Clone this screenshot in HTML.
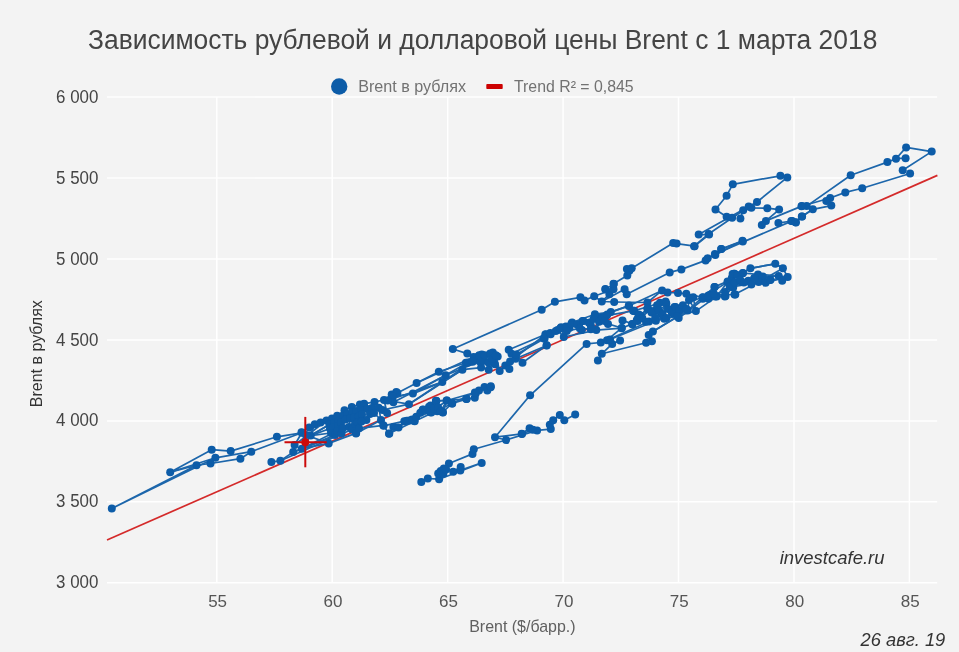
<!DOCTYPE html>
<html lang="ru"><head><meta charset="utf-8"><title>Brent</title>
<style>
html,body{margin:0;padding:0;background:#f3f3f3;}
body{width:959px;height:652px;overflow:hidden;font-family:"Liberation Sans",Arial,sans-serif;}
svg{display:block;will-change:transform;opacity:0.999}
text{font-family:"Liberation Sans",Arial,sans-serif;}
</style></head><body>
<svg width="959" height="652" viewBox="0 0 959 652">
<rect x="0" y="0" width="959" height="652" fill="#f3f3f3"/>
<g stroke="#ffffff" stroke-width="1.5">
<line x1="107" x2="937.2" y1="582.8" y2="582.8"/>
<line x1="107" x2="937.2" y1="501.8" y2="501.8"/>
<line x1="107" x2="937.2" y1="420.9" y2="420.9"/>
<line x1="107" x2="937.2" y1="339.9" y2="339.9"/>
<line x1="107" x2="937.2" y1="259.0" y2="259.0"/>
<line x1="107" x2="937.2" y1="178.0" y2="178.0"/>
<line x1="107" x2="937.2" y1="97.1" y2="97.1"/>
<line x1="216.8" x2="216.8" y1="97.05" y2="582.8"/>
<line x1="332.2" x2="332.2" y1="97.05" y2="582.8"/>
<line x1="447.7" x2="447.7" y1="97.05" y2="582.8"/>
<line x1="563.1" x2="563.1" y1="97.05" y2="582.8"/>
<line x1="678.5" x2="678.5" y1="97.05" y2="582.8"/>
<line x1="794.0" x2="794.0" y1="97.05" y2="582.8"/>
<line x1="909.4" x2="909.4" y1="97.05" y2="582.8"/>
</g>
<text x="88.0" y="48.9" font-size="26.8" fill="#444444" textLength="789.4" lengthAdjust="spacingAndGlyphs">Зависимость рублевой и долларовой цены Brent с 1 марта 2018</text>
<g font-size="18.2" fill="#444444" text-anchor="end">
<text x="98.4" y="588.40" textLength="42.3" lengthAdjust="spacingAndGlyphs">3 000</text>
<text x="98.4" y="507.44" textLength="42.3" lengthAdjust="spacingAndGlyphs">3 500</text>
<text x="98.4" y="426.48" textLength="42.3" lengthAdjust="spacingAndGlyphs">4 000</text>
<text x="98.4" y="345.52" textLength="42.3" lengthAdjust="spacingAndGlyphs">4 500</text>
<text x="98.4" y="264.57" textLength="42.3" lengthAdjust="spacingAndGlyphs">5 000</text>
<text x="98.4" y="183.61" textLength="42.3" lengthAdjust="spacingAndGlyphs">5 500</text>
<text x="98.4" y="102.65" textLength="42.3" lengthAdjust="spacingAndGlyphs">6 000</text>
</g>
<g font-size="17" fill="#555555" text-anchor="middle">
<text x="217.6" y="607">55</text>
<text x="333.0" y="607">60</text>
<text x="448.5" y="607">65</text>
<text x="563.9" y="607">70</text>
<text x="679.3" y="607">75</text>
<text x="794.8" y="607">80</text>
<text x="910.2" y="607">85</text>
</g>
<text x="469.2" y="631.7" font-size="15.7" fill="#606060" textLength="106.4" lengthAdjust="spacingAndGlyphs">Brent ($/барр.)</text>
<text transform="translate(42.0,407.2) rotate(-90)" font-size="15.7" fill="#333333" textLength="107" lengthAdjust="spacingAndGlyphs">Brent в рублях</text>
<circle cx="339.2" cy="86.5" r="8.2" fill="#0c5ca8"/>
<text x="358.2" y="91.7" font-size="16" fill="#727272" textLength="107.9" lengthAdjust="spacingAndGlyphs">Brent в рублях</text>
<rect x="486.3" y="84.1" width="16.4" height="5" rx="0.8" fill="#cc0000"/>
<text x="514.0" y="91.7" font-size="16" fill="#727272" textLength="119.6" lengthAdjust="spacingAndGlyphs">Trend R² = 0,845</text>
<line x1="107" y1="540" x2="937.4" y2="175.4" stroke="#d42a2a" stroke-width="1.7"/>
<g fill="none" stroke="#1c66ab" stroke-width="1.7" stroke-linejoin="round" stroke-linecap="round">
<polyline points="301.8,432.8 276.9,436.8 230.7,451.1 211.7,449.7 170.2,472.3 215.4,457.8 251.3,451.7"/>
<polyline points="170.2,472.3 196.5,465.2 111.8,508.4 215.4,457.8"/>
<polyline points="196.5,465.2 210.5,463.5 240.4,458.7 251.3,451.7 301.8,432.8"/>
<polyline points="210.5,463.5 215.4,457.8"/>
<polyline points="271.4,461.9 280.4,460.8 293.2,452.1 301.8,448.7 310.7,435.6"/>
<polyline points="293.2,452.1 294.6,445.0 301.8,432.8"/>
<polyline points="301.8,448.7 328.7,443.4 356.2,433.1"/>
<polyline points="301.5,432.3 309.2,427.5 314.8,424.2 320.6,422.4 326.5,420.6 332.0,418.4 337.2,415.8 344.5,410.3 351.8,406.9 359.9,404.6 364.1,403.8 374.5,401.9 384.0,400.0 391.7,394.6 396.3,391.9"/>
<polyline points="306.0,435.0 310.7,435.6 329.5,424.5 334.0,423.0 338.5,421.0 343.0,416.5 347.5,414.0 352.0,412.5 356.5,411.0 361.0,410.0 367.5,409.0 372.0,408.0 378.7,407.7 382.5,410.0 387.1,413.0"/>
<polyline points="330.0,428.5 333.5,427.0 338.0,426.0 341.0,422.5 345.5,419.5 350.0,418.5 354.0,417.5 358.5,416.5 362.0,414.5 366.4,419.9 370.0,414.0 374.0,413.0 381.0,419.9 383.3,425.3 389.0,433.7"/>
<polyline points="331.0,433.0 335.0,435.0 337.5,431.0 341.5,433.5 342.0,429.0 343.0,428.0 349.0,427.0 352.0,429.5 356.0,433.4 355.0,424.0 357.5,422.5 359.0,428.3 361.5,421.5"/>
<polyline points="306.0,435.0 301.5,432.3"/>
<polyline points="310.7,435.6 314.8,424.2"/>
<polyline points="329.5,424.5 326.5,420.6"/>
<polyline points="334.0,423.0 337.2,415.8"/>
<polyline points="343.0,416.5 344.5,410.3"/>
<polyline points="354.0,417.5 351.8,406.9"/>
<polyline points="362.0,414.5 364.1,403.8"/>
<polyline points="374.0,413.0 374.5,401.9"/>
<polyline points="338.0,426.0 337.5,431.0"/>
<polyline points="350.0,418.5 349.0,427.0"/>
<polyline points="361.5,421.5 366.4,419.9"/>
<polyline points="387.1,413.0 384.0,400.0"/>
<polyline points="381.0,419.9 378.7,407.7"/>
<polyline points="310.7,435.6 330.0,428.5"/>
<polyline points="310.7,435.6 331.0,433.0"/>
<polyline points="310.7,435.6 329.5,424.5"/>
<polyline points="301.8,448.7 335.0,435.0"/>
<polyline points="301.8,448.7 343.0,428.0"/>
<polyline points="293.2,452.1 341.5,433.5"/>
<polyline points="294.6,445.0 326.5,420.6"/>
<polyline points="328.7,443.4 306.0,435.0"/>
<polyline points="280.4,460.8 352.0,429.5"/>
<polyline points="356.0,433.4 381.0,419.9"/>
<polyline points="359.0,428.3 383.3,425.3"/>
<polyline points="397.4,393.0 416.6,383.0 438.8,371.7 465.9,362.8 478.3,356.6"/>
<polyline points="392.8,396.5 412.9,393.6 442.3,382.1 462.4,369.7 481.1,367.6"/>
<polyline points="393.4,402.2 445.7,375.2 479.7,361.4"/>
<polyline points="408.9,404.2 387.6,400.5 442.3,382.1 445.7,375.2 438.8,371.7"/>
<polyline points="408.9,404.2 462.4,369.7 465.9,362.8"/>
<polyline points="382.5,410.0 408.9,404.2"/>
<polyline points="467.3,353.6 478.3,356.6 481.8,354.5 479.7,361.4 492.8,352.4 481.1,367.6 488.7,369.7 497.7,356.6 494.9,364.2 499.7,371.1 505.3,365.6 509.4,369.0 510.1,361.4 515.6,358.7 508.7,349.7 511.5,353.8 516.3,354.5 522.5,362.8"/>
<polyline points="541.7,309.8 452.8,349.0 467.3,353.6"/>
<polyline points="508.7,349.7 545.3,334.5 544.6,338.6 516.3,354.5"/>
<polyline points="515.6,358.7 546.7,345.5 543.8,338.4 511.5,353.8"/>
<polyline points="522.5,362.8 546.6,345.3"/>
<polyline points="510.1,361.4 545.9,334.2"/>
<polyline points="389.3,433.6 393.4,427.0 398.5,427.5 404.3,421.2 409.5,420.6 414.7,421.2 413.8,420.7 422.7,409.7 423.1,409.4 429.0,406.8 431.3,412.6 430.6,405.6 435.9,401.1 438.3,409.1 437.2,411.3 442.9,412.6 436.3,401.0 446.9,400.5 442.8,412.2 452.1,403.4 446.6,400.6 452.2,403.4 466.3,399.1 474.8,397.8 475.7,393.4 479.0,390.4 484.5,387.0 487.3,390.4 490.7,387.3"/>
<polyline points="383.6,425.8 404.3,421.2 430.6,412.2 446.9,400.5 474.9,392.5 490.8,386.3"/>
<polyline points="389.3,433.6 414.7,421.2 452.1,403.4 479.0,390.4"/>
<polyline points="398.5,427.5 436.2,400.8 466.6,399.1"/>
<polyline points="421.3,482.0 427.8,478.5 439.1,479.2 438.2,473.6 443.8,468.5 448.9,463.5 472.5,453.9 473.8,449.2 506.1,440.0 495.0,437.2 530.1,395.3 586.6,343.9"/>
<polyline points="439.1,479.2 481.7,462.9 460.3,470.4 460.7,467.0 453.2,471.7 443.8,468.5"/>
<polyline points="495.0,437.2 521.7,433.8 529.6,428.2 537.1,430.4 550.8,429.1 549.8,424.8 553.2,420.3 559.8,415.0 564.3,420.3 575.2,414.5"/>
<polyline points="506.1,440.0 537.1,430.4"/>
<polyline points="541.7,309.8 554.9,301.8 580.4,297.3 584.5,300.4 594.2,296.2 601.8,301.5 609.4,294.2 605.3,289.1 613.5,289.3 613.5,283.8 627.3,275.5 629.4,270.7 626.9,269.0 631.7,268.3 673.2,243.1 676.6,243.6 694.6,246.2 709.1,234.6 698.7,234.6"/>
<polyline points="594.2,296.2 613.5,289.3 605.5,289.4 613.8,283.9"/>
<polyline points="614.2,302.0 601.8,301.5 624.6,289.3 626.7,294.2 669.7,272.4 681.4,269.4 705.6,260.4 707.7,258.3 715.3,254.9 721.4,249.0 742.8,241.4"/>
<polyline points="614.2,302.0 647.4,302.5 662.1,290.4"/>
<polyline points="600.4,318.3 608.0,323.9 621.8,328.0 622.5,320.4 632.2,323.9 637.7,321.1"/>
<polyline points="546.6,345.3 543.8,338.4 545.9,334.2 550.7,334.2 557.6,330.1 563.8,337.0 561.1,327.3 569.4,328.0 572.1,322.5 581.8,330.1 582.5,321.1 590.8,325.2 596.3,330.1 600.4,318.3 594.9,314.2 606.6,315.6 610.8,312.1 628.7,305.9 634.3,310.7 640.5,315.6 647.4,308.7"/>
<polyline points="550.7,334.2 572.1,322.5 594.9,314.2 610.8,312.1 628.7,305.9 662.1,290.4 667.6,292.5 678.0,292.9 686.3,293.8"/>
<polyline points="557.6,330.1 582.5,321.1 606.6,315.6 634.3,310.7 665.6,301.4"/>
<polyline points="563.8,337.0 596.3,330.1 621.6,328.2 632.2,323.9 660.0,302.8"/>
<polyline points="586.6,343.9 600.8,342.5 607.0,340.2 612.2,343.9 620.1,340.4"/>
<polyline points="612.2,343.9 601.8,353.8 597.9,360.6"/>
<polyline points="601.8,353.8 646.1,342.8 651.9,341.3 648.7,335.0 652.9,331.4 687.7,310.4"/>
<polyline points="607.0,340.2 649.0,321.5"/>
<polyline points="610.0,339.5 655.9,320.8"/>
<polyline points="607.0,340.2 621.6,328.2"/>
<polyline points="629.0,305.6 633.8,311.1 638.0,318.0 632.4,324.2 647.6,308.3 655.9,311.1 660.0,302.8 661.4,313.9 665.6,301.4 664.2,318.7 655.9,320.8 673.2,313.2 674.5,306.9 678.7,318.0 687.7,310.4 689.0,300.0 695.9,311.1 693.2,297.3 686.3,293.8 702.9,297.3 708.4,298.7 711.1,294.5 714.6,286.9 716.7,296.6 724.9,296.6 727.7,282.1 731.8,278.0 734.6,273.8 733.2,287.6 735.3,294.5"/>
<polyline points="647.6,308.3 674.5,306.9 702.9,297.3 727.7,282.1"/>
<polyline points="664.2,318.7 695.9,311.1 716.7,296.6 733.8,273.8"/>
<polyline points="678.7,318.0 709.0,295.2 734.5,294.5"/>
<polyline points="652.9,331.4 687.7,310.4 714.5,286.9"/>
<polyline points="702.8,298.7 709.0,295.2 714.5,286.9 727.6,281.4 733.8,273.8 742.8,273.1 750.4,268.3 775.3,263.8 782.9,268.3 787.7,277.0"/>
<polyline points="715.2,296.6 725.5,295.9 732.4,286.9 741.4,282.1 748.3,280.7 758.0,274.5 762.8,276.6 778.7,275.9 782.2,280.7"/>
<polyline points="734.5,294.5 758.7,282.1 765.6,282.8 770.4,280.0 787.7,277.0"/>
<polyline points="727.6,281.4 750.4,268.3 775.3,263.8 782.9,268.3 758.7,282.1 732.4,286.9"/>
<polyline points="742.8,273.1 778.7,275.9 787.7,277.0 765.6,282.8 741.4,282.1"/>
<polyline points="702.6,297.6 708.2,295.7 713.8,293.8 725.1,291.9 729.8,286.3 734.5,282.6 732.6,274.1 737.3,275.0 742.9,273.2 740.1,279.7 743.9,282.6 751.4,284.4 754.2,277.9 770.2,279.7"/>
<polyline points="694.1,246.2 708.6,234.0 743.2,210.3 748.7,206.4 751.4,207.8 767.3,208.2 779.1,209.6 765.9,220.9 761.8,225.1"/>
<polyline points="715.5,209.5 726.6,195.7 732.8,184.3 780.4,175.8 787.3,177.4 757.0,202.0 748.7,206.4"/>
<polyline points="715.5,209.5 726.6,216.8 732.1,217.7 743.2,210.3 740.4,218.6"/>
<polyline points="765.9,220.9 801.8,206.1 806.7,206.1 850.7,175.2 887.4,162.1 896.0,158.7 906.1,147.4 931.7,151.6 902.7,170.2"/>
<polyline points="896.0,158.7 905.6,158.2"/>
<polyline points="910.1,173.5 862.2,188.2 845.3,192.4 830.2,198.0 826.3,200.9 831.3,205.6 812.8,209.3 802.1,216.6 795.9,222.5 791.3,221.1 778.4,223.0"/>
<polyline points="801.5,206.3 830.2,198.0"/>
<polyline points="714.9,254.1 721.1,249.0 742.5,240.7"/>
<polyline points="715.3,254.9 742.5,240.7"/>
<polyline points="714.9,254.1 792.2,220.9 795.6,222.3 801.8,216.4 812.8,209.3"/>
<polyline points="468.1,362.6 473.7,357.1 472.7,361.7 479.2,355.2 482.9,360.8 484.7,355.2 488.4,362.6 490.2,353.4 492.1,358.9 495.8,355.2 499.7,371.1"/>
<polyline points="412.9,393.6 468.1,362.6"/>
<polyline points="416.6,383.0 473.7,357.1"/>
<polyline points="408.9,404.2 472.7,361.7"/>
<polyline points="550.3,332.9 555.8,331.0 560.4,328.3 565.9,326.4 571.4,323.7 577.0,324.6 583.4,320.9 588.9,322.7 593.5,319.1 599.1,321.8 602.7,317.2 607.3,314.5"/>
<polyline points="566.8,331.0 579.7,328.3 590.8,329.2 604.6,320.9"/>
<polyline points="633.1,310.8 638.7,314.5 642.3,318.1 647.9,308.9 651.5,312.6 657.1,305.2 658.9,310.8 662.6,314.5 666.3,303.4 668.1,308.9 671.8,312.6 675.5,307.1 679.2,310.8 682.9,305.2 686.5,308.9"/>
<polyline points="636.8,320.0 646.0,321.8 655.2,318.1 666.3,318.1 677.3,316.3 686.5,308.9"/>
<polyline points="438.2,473.6 440.7,471.0 443.4,473.7 446.1,469.6 448.9,463.5"/>
<polyline points="521.7,433.8 522.0,433.9 532.9,429.8 537.1,430.4"/>
<polyline points="406.8,420.8 412.2,419.5 416.3,416.8 420.3,412.7 425.8,410.0 429.8,411.3 433.9,408.6 438.0,407.3 440.7,411.3 446.9,400.5"/>
<polyline points="698.7,234.6 748.7,206.4"/>
</g>
<g fill="#0c5ca8">
<circle cx="301.8" cy="432.8" r="4"/>
<circle cx="276.9" cy="436.8" r="4"/>
<circle cx="230.7" cy="451.1" r="4"/>
<circle cx="211.7" cy="449.7" r="4"/>
<circle cx="170.2" cy="472.3" r="4"/>
<circle cx="215.4" cy="457.8" r="4"/>
<circle cx="251.3" cy="451.7" r="4"/>
<circle cx="196.5" cy="465.2" r="4"/>
<circle cx="111.8" cy="508.4" r="4"/>
<circle cx="210.5" cy="463.5" r="4"/>
<circle cx="240.4" cy="458.7" r="4"/>
<circle cx="271.4" cy="461.9" r="4"/>
<circle cx="280.4" cy="460.8" r="4"/>
<circle cx="293.2" cy="452.1" r="4"/>
<circle cx="301.8" cy="448.7" r="4"/>
<circle cx="310.7" cy="435.6" r="4"/>
<circle cx="294.6" cy="445.0" r="4"/>
<circle cx="328.7" cy="443.4" r="4"/>
<circle cx="356.2" cy="433.1" r="4"/>
<circle cx="301.5" cy="432.3" r="4"/>
<circle cx="309.2" cy="427.5" r="4"/>
<circle cx="314.8" cy="424.2" r="4"/>
<circle cx="320.6" cy="422.4" r="4"/>
<circle cx="326.5" cy="420.6" r="4"/>
<circle cx="332.0" cy="418.4" r="4"/>
<circle cx="337.2" cy="415.8" r="4"/>
<circle cx="344.5" cy="410.3" r="4"/>
<circle cx="351.8" cy="406.9" r="4"/>
<circle cx="359.9" cy="404.6" r="4"/>
<circle cx="364.1" cy="403.8" r="4"/>
<circle cx="374.5" cy="401.9" r="4"/>
<circle cx="384.0" cy="400.0" r="4"/>
<circle cx="391.7" cy="394.6" r="4"/>
<circle cx="396.3" cy="391.9" r="4"/>
<circle cx="306.0" cy="435.0" r="4"/>
<circle cx="329.5" cy="424.5" r="4"/>
<circle cx="334.0" cy="423.0" r="4"/>
<circle cx="338.5" cy="421.0" r="4"/>
<circle cx="343.0" cy="416.5" r="4"/>
<circle cx="347.5" cy="414.0" r="4"/>
<circle cx="352.0" cy="412.5" r="4"/>
<circle cx="356.5" cy="411.0" r="4"/>
<circle cx="361.0" cy="410.0" r="4"/>
<circle cx="367.5" cy="409.0" r="4"/>
<circle cx="372.0" cy="408.0" r="4"/>
<circle cx="378.7" cy="407.7" r="4"/>
<circle cx="382.5" cy="410.0" r="4"/>
<circle cx="387.1" cy="413.0" r="4"/>
<circle cx="330.0" cy="428.5" r="4"/>
<circle cx="333.5" cy="427.0" r="4"/>
<circle cx="338.0" cy="426.0" r="4"/>
<circle cx="341.0" cy="422.5" r="4"/>
<circle cx="345.5" cy="419.5" r="4"/>
<circle cx="350.0" cy="418.5" r="4"/>
<circle cx="354.0" cy="417.5" r="4"/>
<circle cx="358.5" cy="416.5" r="4"/>
<circle cx="362.0" cy="414.5" r="4"/>
<circle cx="366.4" cy="419.9" r="4"/>
<circle cx="370.0" cy="414.0" r="4"/>
<circle cx="374.0" cy="413.0" r="4"/>
<circle cx="381.0" cy="419.9" r="4"/>
<circle cx="383.3" cy="425.3" r="4"/>
<circle cx="389.0" cy="433.7" r="4"/>
<circle cx="331.0" cy="433.0" r="4"/>
<circle cx="335.0" cy="435.0" r="4"/>
<circle cx="337.5" cy="431.0" r="4"/>
<circle cx="341.5" cy="433.5" r="4"/>
<circle cx="342.0" cy="429.0" r="4"/>
<circle cx="343.0" cy="428.0" r="4"/>
<circle cx="349.0" cy="427.0" r="4"/>
<circle cx="352.0" cy="429.5" r="4"/>
<circle cx="356.0" cy="433.4" r="4"/>
<circle cx="355.0" cy="424.0" r="4"/>
<circle cx="357.5" cy="422.5" r="4"/>
<circle cx="359.0" cy="428.3" r="4"/>
<circle cx="361.5" cy="421.5" r="4"/>
<circle cx="397.4" cy="393.0" r="4"/>
<circle cx="416.6" cy="383.0" r="4"/>
<circle cx="438.8" cy="371.7" r="4"/>
<circle cx="465.9" cy="362.8" r="4"/>
<circle cx="478.3" cy="356.6" r="4"/>
<circle cx="392.8" cy="396.5" r="4"/>
<circle cx="412.9" cy="393.6" r="4"/>
<circle cx="442.3" cy="382.1" r="4"/>
<circle cx="462.4" cy="369.7" r="4"/>
<circle cx="481.1" cy="367.6" r="4"/>
<circle cx="393.4" cy="402.2" r="4"/>
<circle cx="445.7" cy="375.2" r="4"/>
<circle cx="479.7" cy="361.4" r="4"/>
<circle cx="408.9" cy="404.2" r="4"/>
<circle cx="387.6" cy="400.5" r="4"/>
<circle cx="467.3" cy="353.6" r="4"/>
<circle cx="481.8" cy="354.5" r="4"/>
<circle cx="492.8" cy="352.4" r="4"/>
<circle cx="488.7" cy="369.7" r="4"/>
<circle cx="497.7" cy="356.6" r="4"/>
<circle cx="494.9" cy="364.2" r="4"/>
<circle cx="499.7" cy="371.1" r="4"/>
<circle cx="505.3" cy="365.6" r="4"/>
<circle cx="509.4" cy="369.0" r="4"/>
<circle cx="510.1" cy="361.4" r="4"/>
<circle cx="515.6" cy="358.7" r="4"/>
<circle cx="508.7" cy="349.7" r="4"/>
<circle cx="511.5" cy="353.8" r="4"/>
<circle cx="516.3" cy="354.5" r="4"/>
<circle cx="522.5" cy="362.8" r="4"/>
<circle cx="541.7" cy="309.8" r="4"/>
<circle cx="452.8" cy="349.0" r="4"/>
<circle cx="545.3" cy="334.5" r="4"/>
<circle cx="544.6" cy="338.6" r="4"/>
<circle cx="546.7" cy="345.5" r="4"/>
<circle cx="543.8" cy="338.4" r="4"/>
<circle cx="546.6" cy="345.3" r="4"/>
<circle cx="545.9" cy="334.2" r="4"/>
<circle cx="389.3" cy="433.6" r="4"/>
<circle cx="393.4" cy="427.0" r="4"/>
<circle cx="398.5" cy="427.5" r="4"/>
<circle cx="404.3" cy="421.2" r="4"/>
<circle cx="409.5" cy="420.6" r="4"/>
<circle cx="414.7" cy="421.2" r="4"/>
<circle cx="413.8" cy="420.7" r="4"/>
<circle cx="422.7" cy="409.7" r="4"/>
<circle cx="423.1" cy="409.4" r="4"/>
<circle cx="429.0" cy="406.8" r="4"/>
<circle cx="431.3" cy="412.6" r="4"/>
<circle cx="430.6" cy="405.6" r="4"/>
<circle cx="435.9" cy="401.1" r="4"/>
<circle cx="438.3" cy="409.1" r="4"/>
<circle cx="437.2" cy="411.3" r="4"/>
<circle cx="442.9" cy="412.6" r="4"/>
<circle cx="436.3" cy="401.0" r="4"/>
<circle cx="446.9" cy="400.5" r="4"/>
<circle cx="442.8" cy="412.2" r="4"/>
<circle cx="452.1" cy="403.4" r="4"/>
<circle cx="446.6" cy="400.6" r="4"/>
<circle cx="452.2" cy="403.4" r="4"/>
<circle cx="466.3" cy="399.1" r="4"/>
<circle cx="474.8" cy="397.8" r="4"/>
<circle cx="475.7" cy="393.4" r="4"/>
<circle cx="479.0" cy="390.4" r="4"/>
<circle cx="484.5" cy="387.0" r="4"/>
<circle cx="487.3" cy="390.4" r="4"/>
<circle cx="490.7" cy="387.3" r="4"/>
<circle cx="383.6" cy="425.8" r="4"/>
<circle cx="430.6" cy="412.2" r="4"/>
<circle cx="474.9" cy="392.5" r="4"/>
<circle cx="490.8" cy="386.3" r="4"/>
<circle cx="436.2" cy="400.8" r="4"/>
<circle cx="466.6" cy="399.1" r="4"/>
<circle cx="421.3" cy="482.0" r="4"/>
<circle cx="427.8" cy="478.5" r="4"/>
<circle cx="439.1" cy="479.2" r="4"/>
<circle cx="438.2" cy="473.6" r="4"/>
<circle cx="443.8" cy="468.5" r="4"/>
<circle cx="448.9" cy="463.5" r="4"/>
<circle cx="472.5" cy="453.9" r="4"/>
<circle cx="473.8" cy="449.2" r="4"/>
<circle cx="506.1" cy="440.0" r="4"/>
<circle cx="495.0" cy="437.2" r="4"/>
<circle cx="530.1" cy="395.3" r="4"/>
<circle cx="586.6" cy="343.9" r="4"/>
<circle cx="481.7" cy="462.9" r="4"/>
<circle cx="460.3" cy="470.4" r="4"/>
<circle cx="460.7" cy="467.0" r="4"/>
<circle cx="453.2" cy="471.7" r="4"/>
<circle cx="521.7" cy="433.8" r="4"/>
<circle cx="529.6" cy="428.2" r="4"/>
<circle cx="537.1" cy="430.4" r="4"/>
<circle cx="550.8" cy="429.1" r="4"/>
<circle cx="549.8" cy="424.8" r="4"/>
<circle cx="553.2" cy="420.3" r="4"/>
<circle cx="559.8" cy="415.0" r="4"/>
<circle cx="564.3" cy="420.3" r="4"/>
<circle cx="575.2" cy="414.5" r="4"/>
<circle cx="554.9" cy="301.8" r="4"/>
<circle cx="580.4" cy="297.3" r="4"/>
<circle cx="584.5" cy="300.4" r="4"/>
<circle cx="594.2" cy="296.2" r="4"/>
<circle cx="601.8" cy="301.5" r="4"/>
<circle cx="609.4" cy="294.2" r="4"/>
<circle cx="605.3" cy="289.1" r="4"/>
<circle cx="613.5" cy="289.3" r="4"/>
<circle cx="613.5" cy="283.8" r="4"/>
<circle cx="627.3" cy="275.5" r="4"/>
<circle cx="629.4" cy="270.7" r="4"/>
<circle cx="626.9" cy="269.0" r="4"/>
<circle cx="631.7" cy="268.3" r="4"/>
<circle cx="673.2" cy="243.1" r="4"/>
<circle cx="676.6" cy="243.6" r="4"/>
<circle cx="694.6" cy="246.2" r="4"/>
<circle cx="709.1" cy="234.6" r="4"/>
<circle cx="698.7" cy="234.6" r="4"/>
<circle cx="605.5" cy="289.4" r="4"/>
<circle cx="613.8" cy="283.9" r="4"/>
<circle cx="614.2" cy="302.0" r="4"/>
<circle cx="624.6" cy="289.3" r="4"/>
<circle cx="626.7" cy="294.2" r="4"/>
<circle cx="669.7" cy="272.4" r="4"/>
<circle cx="681.4" cy="269.4" r="4"/>
<circle cx="705.6" cy="260.4" r="4"/>
<circle cx="707.7" cy="258.3" r="4"/>
<circle cx="715.3" cy="254.9" r="4"/>
<circle cx="721.4" cy="249.0" r="4"/>
<circle cx="742.8" cy="241.4" r="4"/>
<circle cx="647.4" cy="302.5" r="4"/>
<circle cx="662.1" cy="290.4" r="4"/>
<circle cx="600.4" cy="318.3" r="4"/>
<circle cx="608.0" cy="323.9" r="4"/>
<circle cx="621.8" cy="328.0" r="4"/>
<circle cx="622.5" cy="320.4" r="4"/>
<circle cx="632.2" cy="323.9" r="4"/>
<circle cx="637.7" cy="321.1" r="4"/>
<circle cx="550.7" cy="334.2" r="4"/>
<circle cx="557.6" cy="330.1" r="4"/>
<circle cx="563.8" cy="337.0" r="4"/>
<circle cx="561.1" cy="327.3" r="4"/>
<circle cx="569.4" cy="328.0" r="4"/>
<circle cx="572.1" cy="322.5" r="4"/>
<circle cx="581.8" cy="330.1" r="4"/>
<circle cx="582.5" cy="321.1" r="4"/>
<circle cx="590.8" cy="325.2" r="4"/>
<circle cx="596.3" cy="330.1" r="4"/>
<circle cx="594.9" cy="314.2" r="4"/>
<circle cx="606.6" cy="315.6" r="4"/>
<circle cx="610.8" cy="312.1" r="4"/>
<circle cx="628.7" cy="305.9" r="4"/>
<circle cx="634.3" cy="310.7" r="4"/>
<circle cx="640.5" cy="315.6" r="4"/>
<circle cx="647.4" cy="308.7" r="4"/>
<circle cx="667.6" cy="292.5" r="4"/>
<circle cx="678.0" cy="292.9" r="4"/>
<circle cx="686.3" cy="293.8" r="4"/>
<circle cx="665.6" cy="301.4" r="4"/>
<circle cx="621.6" cy="328.2" r="4"/>
<circle cx="660.0" cy="302.8" r="4"/>
<circle cx="600.8" cy="342.5" r="4"/>
<circle cx="607.0" cy="340.2" r="4"/>
<circle cx="612.2" cy="343.9" r="4"/>
<circle cx="620.1" cy="340.4" r="4"/>
<circle cx="601.8" cy="353.8" r="4"/>
<circle cx="597.9" cy="360.6" r="4"/>
<circle cx="646.1" cy="342.8" r="4"/>
<circle cx="651.9" cy="341.3" r="4"/>
<circle cx="648.7" cy="335.0" r="4"/>
<circle cx="652.9" cy="331.4" r="4"/>
<circle cx="687.7" cy="310.4" r="4"/>
<circle cx="649.0" cy="321.5" r="4"/>
<circle cx="610.0" cy="339.5" r="4"/>
<circle cx="655.9" cy="320.8" r="4"/>
<circle cx="629.0" cy="305.6" r="4"/>
<circle cx="633.8" cy="311.1" r="4"/>
<circle cx="638.0" cy="318.0" r="4"/>
<circle cx="632.4" cy="324.2" r="4"/>
<circle cx="647.6" cy="308.3" r="4"/>
<circle cx="655.9" cy="311.1" r="4"/>
<circle cx="661.4" cy="313.9" r="4"/>
<circle cx="664.2" cy="318.7" r="4"/>
<circle cx="673.2" cy="313.2" r="4"/>
<circle cx="674.5" cy="306.9" r="4"/>
<circle cx="678.7" cy="318.0" r="4"/>
<circle cx="689.0" cy="300.0" r="4"/>
<circle cx="695.9" cy="311.1" r="4"/>
<circle cx="693.2" cy="297.3" r="4"/>
<circle cx="702.9" cy="297.3" r="4"/>
<circle cx="708.4" cy="298.7" r="4"/>
<circle cx="711.1" cy="294.5" r="4"/>
<circle cx="714.6" cy="286.9" r="4"/>
<circle cx="716.7" cy="296.6" r="4"/>
<circle cx="724.9" cy="296.6" r="4"/>
<circle cx="727.7" cy="282.1" r="4"/>
<circle cx="731.8" cy="278.0" r="4"/>
<circle cx="734.6" cy="273.8" r="4"/>
<circle cx="733.2" cy="287.6" r="4"/>
<circle cx="735.3" cy="294.5" r="4"/>
<circle cx="733.8" cy="273.8" r="4"/>
<circle cx="709.0" cy="295.2" r="4"/>
<circle cx="734.5" cy="294.5" r="4"/>
<circle cx="714.5" cy="286.9" r="4"/>
<circle cx="702.8" cy="298.7" r="4"/>
<circle cx="727.6" cy="281.4" r="4"/>
<circle cx="742.8" cy="273.1" r="4"/>
<circle cx="750.4" cy="268.3" r="4"/>
<circle cx="775.3" cy="263.8" r="4"/>
<circle cx="782.9" cy="268.3" r="4"/>
<circle cx="787.7" cy="277.0" r="4"/>
<circle cx="715.2" cy="296.6" r="4"/>
<circle cx="725.5" cy="295.9" r="4"/>
<circle cx="732.4" cy="286.9" r="4"/>
<circle cx="741.4" cy="282.1" r="4"/>
<circle cx="748.3" cy="280.7" r="4"/>
<circle cx="758.0" cy="274.5" r="4"/>
<circle cx="762.8" cy="276.6" r="4"/>
<circle cx="778.7" cy="275.9" r="4"/>
<circle cx="782.2" cy="280.7" r="4"/>
<circle cx="758.7" cy="282.1" r="4"/>
<circle cx="765.6" cy="282.8" r="4"/>
<circle cx="770.4" cy="280.0" r="4"/>
<circle cx="702.6" cy="297.6" r="4"/>
<circle cx="708.2" cy="295.7" r="4"/>
<circle cx="713.8" cy="293.8" r="4"/>
<circle cx="725.1" cy="291.9" r="4"/>
<circle cx="729.8" cy="286.3" r="4"/>
<circle cx="734.5" cy="282.6" r="4"/>
<circle cx="732.6" cy="274.1" r="4"/>
<circle cx="737.3" cy="275.0" r="4"/>
<circle cx="742.9" cy="273.2" r="4"/>
<circle cx="740.1" cy="279.7" r="4"/>
<circle cx="743.9" cy="282.6" r="4"/>
<circle cx="751.4" cy="284.4" r="4"/>
<circle cx="754.2" cy="277.9" r="4"/>
<circle cx="770.2" cy="279.7" r="4"/>
<circle cx="694.1" cy="246.2" r="4"/>
<circle cx="708.6" cy="234.0" r="4"/>
<circle cx="743.2" cy="210.3" r="4"/>
<circle cx="748.7" cy="206.4" r="4"/>
<circle cx="751.4" cy="207.8" r="4"/>
<circle cx="767.3" cy="208.2" r="4"/>
<circle cx="779.1" cy="209.6" r="4"/>
<circle cx="765.9" cy="220.9" r="4"/>
<circle cx="761.8" cy="225.1" r="4"/>
<circle cx="715.5" cy="209.5" r="4"/>
<circle cx="726.6" cy="195.7" r="4"/>
<circle cx="732.8" cy="184.3" r="4"/>
<circle cx="780.4" cy="175.8" r="4"/>
<circle cx="787.3" cy="177.4" r="4"/>
<circle cx="757.0" cy="202.0" r="4"/>
<circle cx="726.6" cy="216.8" r="4"/>
<circle cx="732.1" cy="217.7" r="4"/>
<circle cx="740.4" cy="218.6" r="4"/>
<circle cx="801.8" cy="206.1" r="4"/>
<circle cx="806.7" cy="206.1" r="4"/>
<circle cx="850.7" cy="175.2" r="4"/>
<circle cx="887.4" cy="162.1" r="4"/>
<circle cx="896.0" cy="158.7" r="4"/>
<circle cx="906.1" cy="147.4" r="4"/>
<circle cx="931.7" cy="151.6" r="4"/>
<circle cx="902.7" cy="170.2" r="4"/>
<circle cx="905.6" cy="158.2" r="4"/>
<circle cx="910.1" cy="173.5" r="4"/>
<circle cx="862.2" cy="188.2" r="4"/>
<circle cx="845.3" cy="192.4" r="4"/>
<circle cx="830.2" cy="198.0" r="4"/>
<circle cx="826.3" cy="200.9" r="4"/>
<circle cx="831.3" cy="205.6" r="4"/>
<circle cx="812.8" cy="209.3" r="4"/>
<circle cx="802.1" cy="216.6" r="4"/>
<circle cx="795.9" cy="222.5" r="4"/>
<circle cx="791.3" cy="221.1" r="4"/>
<circle cx="778.4" cy="223.0" r="4"/>
<circle cx="801.5" cy="206.3" r="4"/>
<circle cx="714.9" cy="254.1" r="4"/>
<circle cx="721.1" cy="249.0" r="4"/>
<circle cx="742.5" cy="240.7" r="4"/>
<circle cx="792.2" cy="220.9" r="4"/>
<circle cx="795.6" cy="222.3" r="4"/>
<circle cx="801.8" cy="216.4" r="4"/>
<circle cx="468.1" cy="362.6" r="4"/>
<circle cx="473.7" cy="357.1" r="4"/>
<circle cx="472.7" cy="361.7" r="4"/>
<circle cx="479.2" cy="355.2" r="4"/>
<circle cx="482.9" cy="360.8" r="4"/>
<circle cx="484.7" cy="355.2" r="4"/>
<circle cx="488.4" cy="362.6" r="4"/>
<circle cx="490.2" cy="353.4" r="4"/>
<circle cx="492.1" cy="358.9" r="4"/>
<circle cx="495.8" cy="355.2" r="4"/>
<circle cx="550.3" cy="332.9" r="4"/>
<circle cx="555.8" cy="331.0" r="4"/>
<circle cx="560.4" cy="328.3" r="4"/>
<circle cx="565.9" cy="326.4" r="4"/>
<circle cx="571.4" cy="323.7" r="4"/>
<circle cx="577.0" cy="324.6" r="4"/>
<circle cx="583.4" cy="320.9" r="4"/>
<circle cx="588.9" cy="322.7" r="4"/>
<circle cx="593.5" cy="319.1" r="4"/>
<circle cx="599.1" cy="321.8" r="4"/>
<circle cx="602.7" cy="317.2" r="4"/>
<circle cx="607.3" cy="314.5" r="4"/>
<circle cx="566.8" cy="331.0" r="4"/>
<circle cx="579.7" cy="328.3" r="4"/>
<circle cx="590.8" cy="329.2" r="4"/>
<circle cx="604.6" cy="320.9" r="4"/>
<circle cx="633.1" cy="310.8" r="4"/>
<circle cx="638.7" cy="314.5" r="4"/>
<circle cx="642.3" cy="318.1" r="4"/>
<circle cx="647.9" cy="308.9" r="4"/>
<circle cx="651.5" cy="312.6" r="4"/>
<circle cx="657.1" cy="305.2" r="4"/>
<circle cx="658.9" cy="310.8" r="4"/>
<circle cx="662.6" cy="314.5" r="4"/>
<circle cx="666.3" cy="303.4" r="4"/>
<circle cx="668.1" cy="308.9" r="4"/>
<circle cx="671.8" cy="312.6" r="4"/>
<circle cx="675.5" cy="307.1" r="4"/>
<circle cx="679.2" cy="310.8" r="4"/>
<circle cx="682.9" cy="305.2" r="4"/>
<circle cx="686.5" cy="308.9" r="4"/>
<circle cx="636.8" cy="320.0" r="4"/>
<circle cx="646.0" cy="321.8" r="4"/>
<circle cx="655.2" cy="318.1" r="4"/>
<circle cx="666.3" cy="318.1" r="4"/>
<circle cx="677.3" cy="316.3" r="4"/>
<circle cx="440.7" cy="471.0" r="4"/>
<circle cx="443.4" cy="473.7" r="4"/>
<circle cx="446.1" cy="469.6" r="4"/>
<circle cx="522.0" cy="433.9" r="4"/>
<circle cx="532.9" cy="429.8" r="4"/>
<circle cx="406.8" cy="420.8" r="4"/>
<circle cx="412.2" cy="419.5" r="4"/>
<circle cx="416.3" cy="416.8" r="4"/>
<circle cx="420.3" cy="412.7" r="4"/>
<circle cx="425.8" cy="410.0" r="4"/>
<circle cx="429.8" cy="411.3" r="4"/>
<circle cx="433.9" cy="408.6" r="4"/>
<circle cx="438.0" cy="407.3" r="4"/>
<circle cx="440.7" cy="411.3" r="4"/>
</g>
<g stroke="#cc0a0a" stroke-width="2"><line x1="284.5" x2="326.7" y1="442.2" y2="442.2"/><line x1="305.3" x2="305.3" y1="416.9" y2="467.3"/></g><circle cx="305.3" cy="442.2" r="4" fill="#cc0a0a"/>
<text x="779.7" y="563.8" font-size="18.6" font-style="italic" fill="#333333" textLength="104.8" lengthAdjust="spacingAndGlyphs">investcafe.ru</text>
<text x="860.6" y="646.2" font-size="18.2" font-style="italic" fill="#333333" textLength="84.7" lengthAdjust="spacingAndGlyphs">26 авг. 19</text>
</svg></body></html>
